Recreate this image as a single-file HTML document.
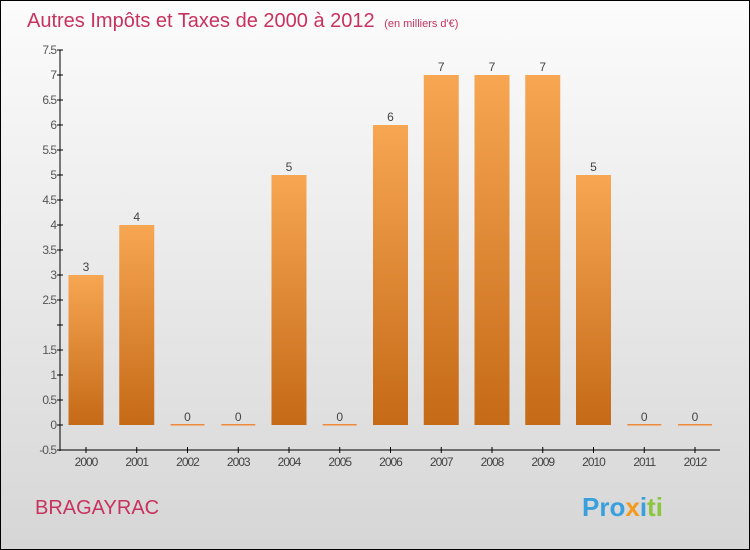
<!DOCTYPE html>
<html><head><meta charset="utf-8"><style>
body{margin:0}
#c{width:748px;height:548px;border:1px solid #000;background:linear-gradient(#fcfcfc,#d6d6d6);position:relative;font-family:"Liberation Sans",sans-serif}
</style></head><body>
<div id="c">
<svg width="748" height="548" viewBox="1 1 748 548" style="position:absolute;left:0;top:0">
<defs><linearGradient id="g" x1="0" y1="0" x2="0" y2="1"><stop offset="0" stop-color="#f7a652"/><stop offset="1" stop-color="#c56a17"/></linearGradient></defs>
<text x="27" y="27" font-size="20" fill="#c8325e">Autres Impôts et Taxes de 2000 à 2012 <tspan font-size="11" dx="4">(en milliers d'€)</tspan></text>
<g id="plot"></g>
<text x="35" y="514" font-size="20" fill="#c8325e">BRAGAYRAC</text>
<text x="582" y="516" font-size="26" font-weight="bold"><tspan fill="#3aa0dd">Pro</tspan><tspan fill="#f39a1e">x</tspan><tspan fill="#3aa0dd">i</tspan><tspan fill="#8cc63f">ti</tspan></text>
</svg>
</div>
<script>
const years=["2000","2001","2002","2003","2004","2005","2006","2007","2008","2009","2010","2011","2012"];
const values=[3,4,0,0,5,0,6,7,7,7,5,0,0];
const ticks=[-0.5,0,0.5,1,1.5,2,2.5,3,3.5,4,4.5,5,5.5,6,6.5,7,7.5];
const NS="http://www.w3.org/2000/svg";
const g=document.getElementById('plot');
const y=v=>425-v*50;
const x=i=>86+i*50.75;
function mk(t,a,p){const e=document.createElementNS(NS,t);for(const k in a)e.setAttribute(k,a[k]);(p||g).appendChild(e);return e;}
let ax=mk('line',{x1:60,y1:50,x2:60,y2:451,stroke:'#000'});


let bx=mk('line',{x1:59,y1:450,x2:720,y2:450,stroke:'#000'});


ticks.forEach(t=>{
 mk('line',{x1:57,x2:63,y1:y(t),y2:y(t),stroke:'#000'});
 let lb=mk('text',{x:56,y:y(t)+4,'font-size':12,fill:'#555','text-anchor':'end','letter-spacing':'-1'});
 lb.textContent=(t===2)?'':String(t);
 
 
});
years.forEach((yr,i)=>{
 const cx=x(i),v=values[i];
 mk('line',{x1:cx,x2:cx,y1:447,y2:453,stroke:'#000'});
 let t=mk('text',{x:cx,y:466,'font-size':12,fill:'#444','text-anchor':'middle','letter-spacing':'-1'});t.textContent=yr;
 
 
 let b;
 if(v>0){b=mk('rect',{x:cx-17.5,y:y(v),width:35,height:y(0)-y(v),fill:'url(#g)'});}
 else{b=mk('rect',{x:cx-17,y:y(0)-1,width:34,height:1.5,fill:'#f08a3a'});}
 
 
 let vl=mk('text',{x:cx,y:y(v)-4,'font-size':12,fill:'#444','text-anchor':'middle'});vl.textContent=v;
 
 
});
</script>
</body></html>
